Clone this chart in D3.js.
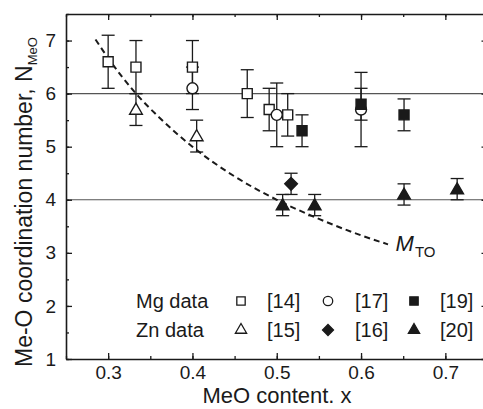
<!DOCTYPE html>
<html>
<head>
<meta charset="utf-8">
<script src="https://cdn.jsdelivr.net/npm/d3@7"></script>
<style>
  body { margin: 0; background: #fff; }
  svg { display: block; overflow: hidden; font-family: "Liberation Sans", Arial, sans-serif; }
</style>
</head>
<body>
<div class="chart"></div>
<script>
// [x, N, lower, upper]
var ref14 = [[0.300, 6.6, 6.1, 7.1], [0.333, 6.5, 6.0, 7.0], [0.400, 6.5, 6.0, 7.0],
             [0.465, 6.0, 5.55, 6.45], [0.491, 5.7, 5.3, 6.1], [0.513, 5.6, 5.2, 6.0]];
var ref17 = [[0.400, 6.1, 5.7, 6.5], [0.500, 5.6, 5.0, 6.2], [0.600, 5.7, 5.0, 6.4]];
var ref19 = [[0.530, 5.3, 5.0, 5.6], [0.600, 5.8, 5.5, 6.1], [0.651, 5.6, 5.3, 5.9]];
var ref15 = [[0.333, 5.7, 5.4, 6.0], [0.405, 5.2, 4.9, 5.5]];
var ref16 = [[0.517, 4.3, 4.1, 4.5]];
var ref20 = [[0.507, 3.9, 3.7, 4.1], [0.545, 3.9, 3.7, 4.1], [0.651, 4.1, 3.9, 4.3], [0.714, 4.2, 4.0, 4.4]];
// M_TO curve
var mto = [[0.285, 7.02], [0.30, 6.67], [0.333, 6.0], [0.36, 5.56], [0.40, 5.0], [0.45, 4.44],
           [0.50, 4.0], [0.55, 3.64], [0.60, 3.33], [0.632, 3.16]];
var refLines = [6, 4];
var xTicks = [0.3, 0.4, 0.5, 0.6, 0.7];
var yTicks = [1, 2, 3, 4, 5, 6, 7];

var W = 483, H = 409;
var mLeft = 66, mTop = 14, mRight = 487.5, mBottom = 359;
var ink = "#1a1a1a";

var svg = d3.select(".chart").append("svg").attr("width", W).attr("height", H);

var x = d3.scaleLinear().domain([0.25, 0.75]).range([mLeft, mRight]);
var y = d3.scaleLinear().domain([1, 7.5]).range([mBottom, mTop]);

// reference lines
svg.selectAll(".ref").data(refLines).enter().append("line")
  .attr("x1", mLeft).attr("x2", mRight)
  .attr("y1", d => y(d)).attr("y2", d => y(d))
  .attr("stroke", "#555").attr("stroke-width", 1.2);

// axes (ticks inward)
var minorX = d3.range(0.25, 0.751, 0.05);
var minorY = d3.range(1, 7.51, 0.5);
function axisWith(maker, scale, tr, major, minor, fmt, showLabels) {
  svg.append("g").attr("transform", tr)
    .call(maker(scale).tickValues(minor).tickSizeInner(-3).tickSizeOuter(0).tickFormat(""))
    .call(g => g.select(".domain").remove())
    .selectAll("line").attr("stroke", ink).attr("stroke-width", 1.3);
  var g = svg.append("g").attr("transform", tr)
    .call(maker(scale).tickValues(major).tickSizeInner(-6).tickSizeOuter(0)
      .tickPadding(9).tickFormat(showLabels ? fmt : ""));
  g.select(".domain").attr("stroke", ink).attr("stroke-width", 1.6);
  g.selectAll("line").attr("stroke", ink).attr("stroke-width", 1.3);
  g.selectAll("text").attr("fill", ink).style("font-size", "19px")
    .style("font-family", "'Liberation Sans', Arial, sans-serif");
  return g;
}
var gx = axisWith(d3.axisBottom, x, `translate(0,${mBottom})`, xTicks, minorX, d3.format(".1f"), true);
gx.selectAll("text").attr("dy", "0.6em");
axisWith(d3.axisTop, x, `translate(0,${mTop})`, xTicks, minorX, null, false);
var gy = axisWith(d3.axisLeft, y, `translate(${mLeft},0)`, yTicks, minorY, d3.format("d"), true);
gy.selectAll("text").attr("dx", "-0.05em");
axisWith(d3.axisRight, y, `translate(${mRight},0)`, yTicks, minorY, null, false);

// dashed M_TO curve
svg.append("path").datum(mto)
  .attr("d", d3.line().x(d => x(d[0])).y(d => y(d[1])).curve(d3.curveMonotoneX))
  .attr("fill", "none").attr("stroke", ink).attr("stroke-width", 2)
  .attr("stroke-dasharray", "6,4");
var mt = svg.append("text").attr("x", x(0.635) + 5).attr("y", y(3.15) + 6)
  .attr("fill", ink).style("font-size", "22px");
mt.append("tspan").style("font-style", "italic").text("M");
mt.append("tspan").attr("dy", 6).attr("dx", 1).style("font-size", "15px").text("TO");

// error bars + markers
var series = [
  { data: ref14, shape: d3.symbolSquare, size: 100, fill: "#fff" },
  { data: ref17, shape: d3.symbolCircle, size: 95, fill: "#fff" },
  { data: ref19, shape: d3.symbolSquare, size: 100, fill: ink },
  { data: ref15, shape: d3.symbolTriangle, size: 70, fill: "#fff" },
  { data: ref16, shape: d3.symbolSquare, size: 80, fill: ink, rot: 45 },
  { data: ref20, shape: d3.symbolTriangle, size: 70, fill: ink }
];
var cap = 6.5;
series.forEach(function (s) {
  var g = svg.append("g").attr("stroke", ink).attr("stroke-width", 1.3);
  s.data.forEach(function (d) {
    var cx = x(d[0]);
    g.append("line").attr("x1", cx).attr("x2", cx).attr("y1", y(d[2])).attr("y2", y(d[3]));
    g.append("line").attr("x1", cx - cap).attr("x2", cx + cap).attr("y1", y(d[2])).attr("y2", y(d[2]));
    g.append("line").attr("x1", cx - cap).attr("x2", cx + cap).attr("y1", y(d[3])).attr("y2", y(d[3]));
  });
});
series.forEach(function (s) {
  svg.append("g").selectAll("path").data(s.data).enter().append("path")
    .attr("d", d3.symbol().type(s.shape).size(s.size))
    .attr("transform", d => `translate(${x(d[0])},${y(d[1]) + (s.shape === d3.symbolTriangle ? 1 : 0)}) rotate(${s.rot || 0})`)
    .attr("fill", s.fill).attr("stroke", ink).attr("stroke-width", 1.4);
});

// legend
var legRows = [
  { name: "Mg data", items: [[d3.symbolSquare, 70, "#fff", 0, "[14]"], [d3.symbolCircle, 70, "#fff", 0, "[17]"], [d3.symbolSquare, 70, ink, 0, "[19]"]] },
  { name: "Zn data", items: [[d3.symbolTriangle, 55, "#fff", 0, "[15]"], [d3.symbolSquare, 60, ink, 45, "[16]"], [d3.symbolTriangle, 55, ink, 0, "[20]"]] }
];
var symX = [241, 328, 414], labX = [267, 355, 440];
legRows.forEach(function (r, i) {
  var by = 308 + i * 29;
  svg.append("text").attr("x", 136).attr("y", by).attr("fill", ink)
    .style("font-size", "20px").text(r.name);
  r.items.forEach(function (it, j) {
    svg.append("path").attr("d", d3.symbol().type(it[0]).size(it[1]))
      .attr("transform", `translate(${symX[j]},${by - 7}) rotate(${it[3]})`)
      .attr("fill", it[2]).attr("stroke", ink).attr("stroke-width", 1.3);
    svg.append("text").attr("x", labX[j]).attr("y", by).attr("fill", ink)
      .style("font-size", "20px").text(it[4]);
  });
});

// axis titles
svg.append("text").attr("x", 277).attr("y", 403)
  .attr("text-anchor", "middle").attr("fill", ink).style("font-size", "22px")
  .text("MeO content. x");
var yt = svg.append("text").attr("transform", "translate(32,367) rotate(-90)")
  .attr("fill", ink).style("font-size", "23px");
yt.append("tspan").text("Me-O coordination number, N");
yt.append("tspan").attr("dy", 5).style("font-size", "13px").text("MeO");
</script>
</body>
</html>
